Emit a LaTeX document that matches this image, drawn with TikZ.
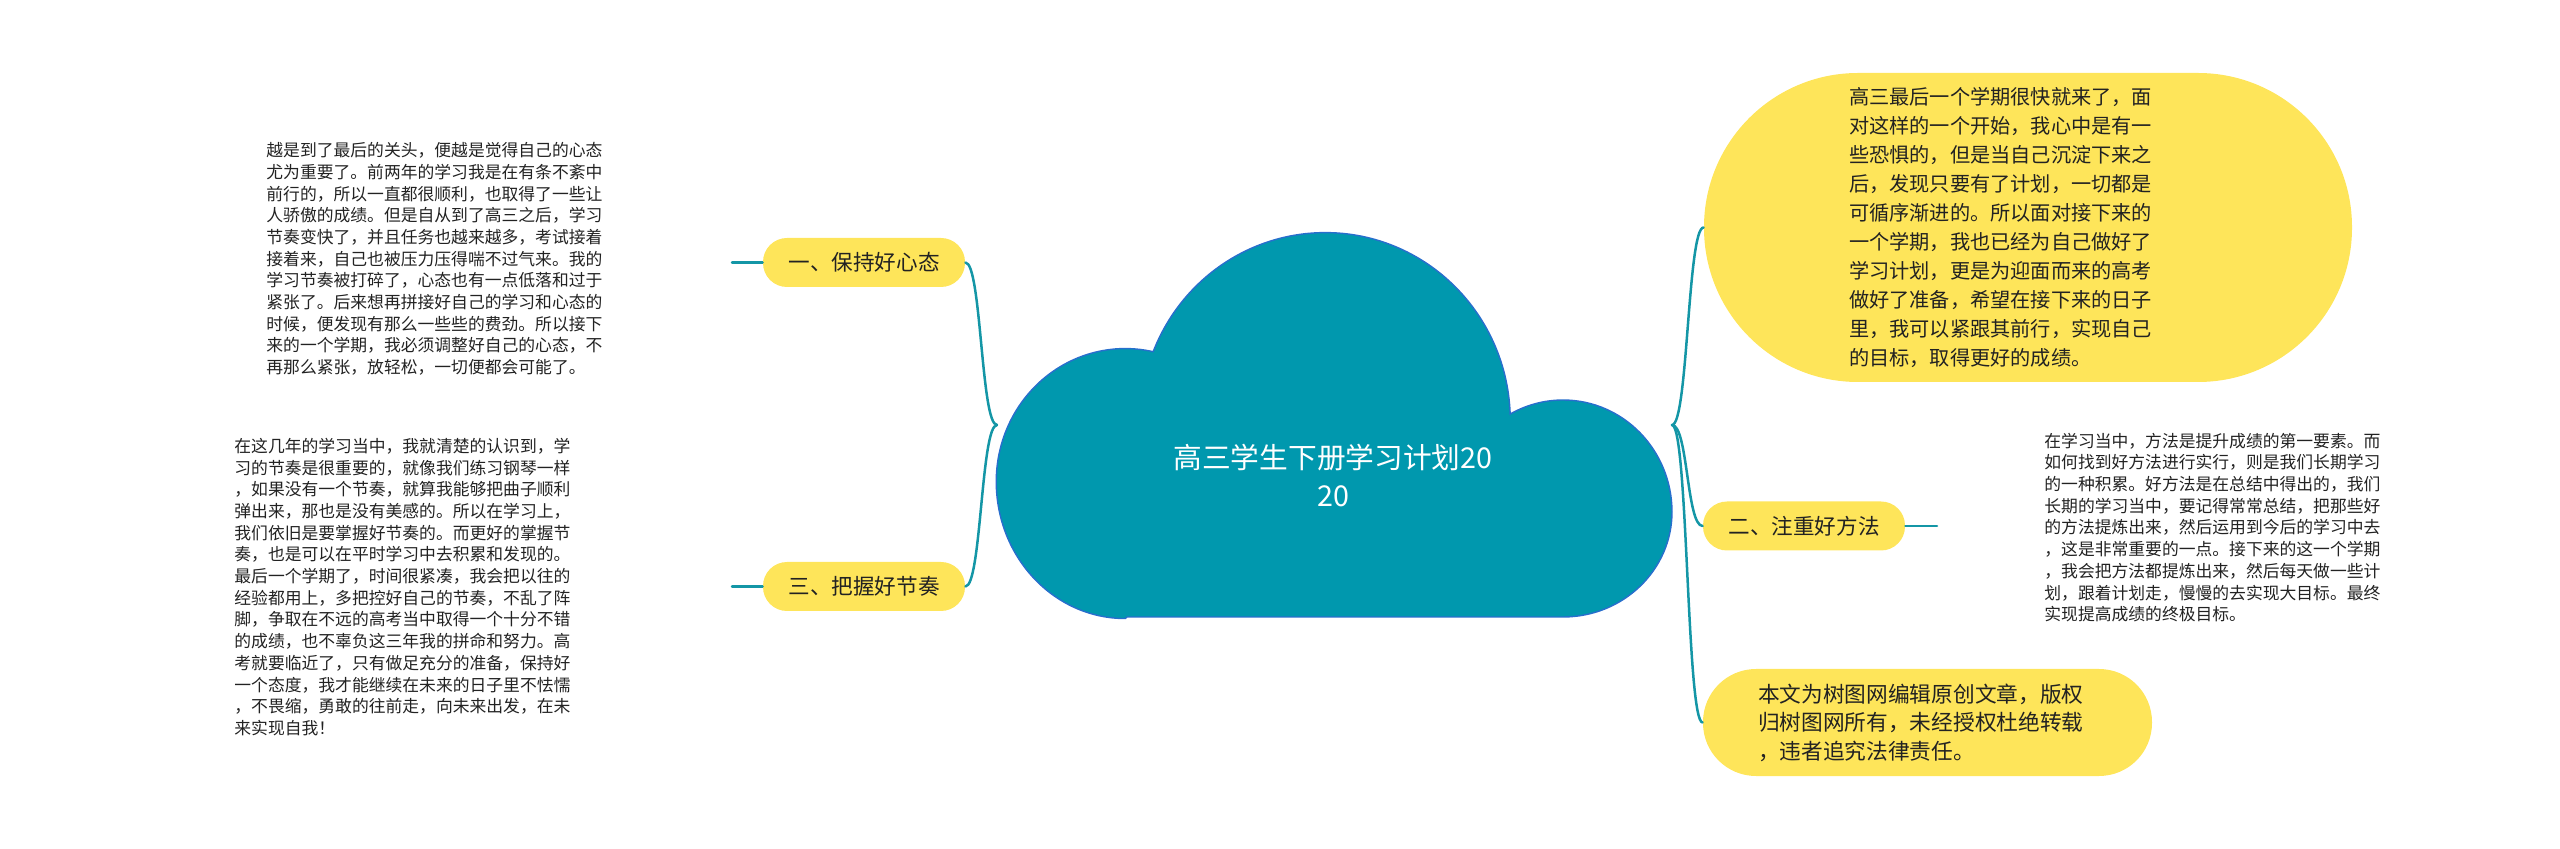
\documentclass[tikz,border=0pt]{standalone}
\usepackage{fontspec}
\setmainfont{Noto Sans CJK SC}
\usetikzlibrary{calc}

\definecolor{cloudfill}{RGB}{0,152,174}
\definecolor{cloudline}{RGB}{40,110,205}
\definecolor{linkteal}{RGB}{20,150,166}
\definecolor{pillyellow}{RGB}{254,229,90}
\definecolor{inkdark}{RGB}{34,34,34}

\begin{document}
\begin{tikzpicture}[x=0.5pt, y=-0.5pt,
    % Define the styles for the topics and the connectors
    pill/.style={fill=pillyellow, text=inkdark, rounded corners=12pt,
        minimum width=101pt, minimum height=24.5pt, inner sep=0pt,
        font=\fontsize{10.8}{13}\selectfont},
    bubble/.style={fill=pillyellow, text=inkdark, align=left, inner ysep=0pt},
    note/.style={text=inkdark, align=left, inner sep=0pt, anchor=west,
        font=\fontsize{8.4}{10.85}\selectfont},
    conn/.style={draw=linkteal, line width=1.25pt, line cap=round},
    cloud/.style={fill=cloudfill, draw=cloudline, line width=0.7pt}
]
\useasboundingbox (0,0) rectangle (2560,849);

% Define the points where the branches leave the cloud
\coordinate (jl) at (997,425);
\coordinate (jr) at (1672,425);

% Define the free ends of the short lines
\coordinate (s1) at (732,262.5);
\coordinate (s3) at (732,586.5);
\coordinate (s2) at (1937,526);

% Draw the cloud
\draw[cloud] (1127,617) -- (1563,617)
    arc[start angle=90, end angle=0, x radius=109, y radius=105]
    arc[start angle=0, end angle=-119, x radius=109, y radius=112]
    arc[start angle=-2, end angle=-158.5, x radius=185, y radius=188]
    arc[start angle=-77.5, end angle=-180, x radius=129, y radius=133]
    arc[start angle=180, end angle=90, x radius=129, y radius=137] -- cycle;
\node (root) at (1333,476) [text=white, align=center,
    font=\fontsize{14.35}{19}\selectfont] {高三学生下册学习计划20\\20};

% Add the topics
\node (p1) at (864,262.5) [pill] {一、保持好心态};
\node (p3) at (864,586.5) [pill] {三、把握好节奏};
\node (p2) at (1804,526) [pill] {二、注重好方法};

\node (big) at (2028,227.5) [bubble, rounded corners=77pt, minimum width=324pt,
    minimum height=154.5pt, inner xsep=72.5pt, text width=179pt,
    font=\fontsize{10.1}{14.45}\selectfont]
    {高三最后一个学期很快就来了，面\\对这样的一个开始，我心中是有一\\些恐惧的，但是当自己沉淀下来之\\后，发现只要有了计划，一切都是\\可循序渐进的。所以面对接下来的\\一个学期，我也已经为自己做好了\\学习计划，更是为迎面而来的高考\\做好了准备，希望在接下来的日子\\里，我可以紧跟其前行，实现自己\\的目标，取得更好的成绩。};

\node (copy) at (1927.5,722.5) [bubble, rounded corners=26.5pt, minimum width=224.5pt,
    minimum height=53.5pt, inner xsep=27.5pt, text width=169.5pt,
    font=\fontsize{10.85}{14.25}\selectfont]
    {本文为树图网编辑原创文章，版权\\归树图网所有，未经授权杜绝转载\\，违者追究法律责任。};

% Add the notes
\node (t1) at (266,259) [note]
    {越是到了最后的关头，便越是觉得自己的心态\\尤为重要了。前两年的学习我是在有条不紊中\\前行的，所以一直都很顺利，也取得了一些让\\人骄傲的成绩。但是自从到了高三之后，学习\\节奏变快了，并且任务也越来越多，考试接着\\接着来，自己也被压力压得喘不过气来。我的\\学习节奏被打碎了，心态也有一点低落和过于\\紧张了。后来想再拼接好自己的学习和心态的\\时候，便发现有那么一些些的费劲。所以接下\\来的一个学期，我必须调整好自己的心态，不\\再那么紧张，放轻松，一切便都会可能了。};
\node (t2) at (234,587) [note]
    {在这几年的学习当中，我就清楚的认识到，学\\习的节奏是很重要的，就像我们练习钢琴一样\\，如果没有一个节奏，就算我能够把曲子顺利\\弹出来，那也是没有美感的。所以在学习上，\\我们依旧是要掌握好节奏的。而更好的掌握节\\奏，也是可以在平时学习中去积累和发现的。\\最后一个学期了，时间很紧凑，我会把以往的\\经验都用上，多把控好自己的节奏，不乱了阵\\脚，争取在不远的高考当中取得一个十分不错\\的成绩，也不辜负这三年我的拼命和努力。高\\考就要临近了，只有做足充分的准备，保持好\\一个态度，我才能继续在未来的日子里不怯懦\\，不畏缩，勇敢的往前走，向未来出发，在未\\来实现自我！};
\node (t3) at (2044,527.5) [note]
    {在学习当中，方法是提升成绩的第一要素。而\\如何找到好方法进行实行，则是我们长期学习\\的一种积累。好方法是在总结中得出的，我们\\长期的学习当中，要记得常常总结，把那些好\\的方法提炼出来，然后运用到今后的学习中去\\，这是非常重要的一点。接下来的这一个学期\\，我会把方法都提炼出来，然后每天做一些计\\划，跟着计划走，慢慢的去实现大目标。最终\\实现提高成绩的终极目标。};

% Draw the branches
\draw[conn] (jl) .. controls ($(jl)+(-16,0)$) and ($(p1.east)+(16,0)$) .. (p1.east);
\draw[conn] (jl) .. controls ($(jl)+(-16,0)$) and ($(p3.east)+(16,0)$) .. (p3.east);
\draw[conn] (jr) .. controls ($(jr)+(16,0)$) and ($(big.west)+(-16,0)$) .. (big.west);
\draw[conn] (jr) .. controls ($(jr)+(16,0)$) and ($(p2.west)+(-16,0)$) .. (p2.west);
\draw[conn] (jr) .. controls ($(jr)+(16,0)$) and ($(copy.west)+(-16,0)$) .. (copy.west);

% Draw the short lines to the notes
\draw[conn] (p1.west) -- (s1);
\draw[conn] (p3.west) -- (s3);
\draw[conn] (p2.east) -- (s2);

\end{tikzpicture}
\end{document}
